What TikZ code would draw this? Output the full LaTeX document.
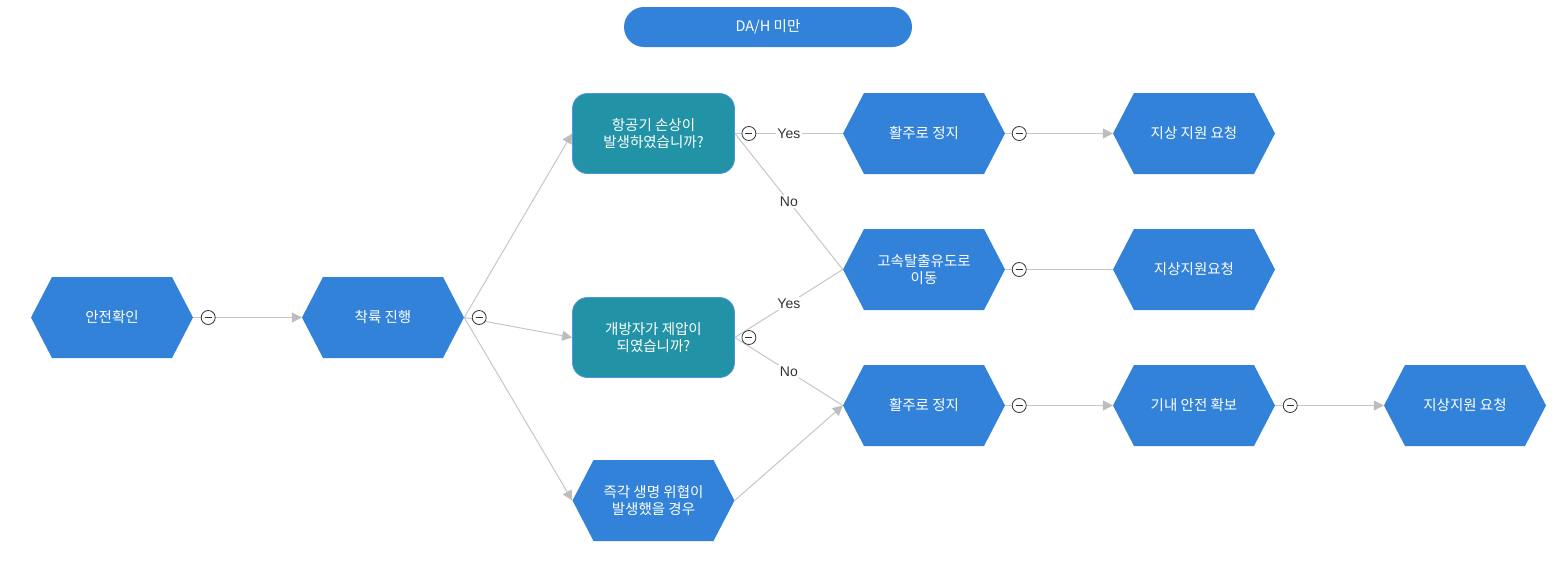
\documentclass[tikz,border=0pt]{standalone}
\usepackage{fontspec}
\setmainfont{Noto Sans CJK KR}
\newfontfamily\latinfont{Liberation Sans}
\usetikzlibrary{arrows.meta}
\definecolor{hexblue}{HTML}{3382D9}
\definecolor{qteal}{HTML}{2293A6}
\definecolor{lgray}{HTML}{C6C6C6}
\definecolor{agray}{HTML}{BDBDBD}
\definecolor{lbl}{HTML}{333333}
\tikzset{
  boxfont/.style={text=white, font=\fontsize{14.5}{17.5}\selectfont, align=center},
  hexbox/.style={boxfont, minimum width=162pt, minimum height=81pt, inner sep=0pt,
    path picture={\fill[hexblue] (path picture bounding box.west)
      -- ([xshift=21pt]path picture bounding box.north west)
      -- ([xshift=-21pt]path picture bounding box.north east)
      -- (path picture bounding box.east)
      -- ([xshift=-21pt]path picture bounding box.south east)
      -- ([xshift=21pt]path picture bounding box.south west) -- cycle;}},
  qbox/.style={boxfont, rectangle, rounded corners=15pt, fill=qteal, draw=hexblue!85, line width=0.8pt,
    minimum width=162pt, minimum height=80pt, inner sep=0pt},
  pill/.style={boxfont, rectangle, rounded corners=20pt, fill=hexblue, minimum width=288pt, minimum height=40pt, inner sep=0pt},
  conn/.style={draw=lgray, line width=1pt},
  arr/.style={conn, -{Triangle[length=10pt,width=10pt,color=agray]}},
  lab/.style={fill=white, text=lbl, font=\latinfont\fontsize{14}{16}\selectfont, inner sep=1.5pt},
  collapse/.style={circle, draw=lbl, fill=white, minimum size=14pt, inner sep=0pt, line width=0.8pt,
    path picture={\draw[lbl, line width=1pt] ([xshift=-3.5pt]path picture bounding box.center) -- ([xshift=3.5pt]path picture bounding box.center);}}
}
\begin{document}
\begin{tikzpicture}[x=1pt,y=-1pt]
\useasboundingbox (0,0) rectangle (1563,573);
\node[pill] (top) at (768,27) {DA/H 미만};
\node[hexbox] (n1) at (112,317.5) {안전확인};
\node[hexbox] (n2) at (383,317.5) {착륙 진행};
\node[qbox] (d1) at (653.5,133.5) {항공기 손상이\\ 발생하였습니까?};
\node[qbox] (d2) at (653.5,337.5) {개방자가 제압이\\ 되였습니까?};
\node[hexbox] (n3) at (653.5,500.5) {즉각 생명 위협이\\ 발생했을 경우};
\node[hexbox] (h1) at (924,133.5) {활주로 정지};
\node[hexbox] (h2) at (924,269.5) {고속탈출유도로\\ 이동};
\node[hexbox] (h3) at (924,405.5) {활주로 정지};
\node[hexbox] (g1) at (1194,133.5) {지상 지원 요청};
\node[hexbox] (g2) at (1194,269.5) {지상지원요청};
\node[hexbox] (g3) at (1194,405.5) {기내 안전 확보};
\node[hexbox] (g4) at (1465,405.5) {지상지원 요청};

\draw[arr] (n1.east) -- (n2.west);
\draw[arr] (n2.east) -- (d1.west);
\draw[arr] (n2.east) -- (d2.west);
\draw[arr] (n2.east) -- (n3.west);
\draw[conn] (d1.east) -- node[lab] {Yes} (h1.west);
\draw[conn] (d1.east) -- node[lab] {No} (h2.west);
\draw[conn] (d2.east) -- node[lab] {Yes} (h2.west);
\draw[conn] (d2.east) -- node[lab] {No} (h3.west);
\draw[arr] (n3.east) -- (h3.west);
\draw[arr] (h1.east) -- (g1.west);
\draw[conn] (h2.east) -- (g2.west);
\draw[arr] (h3.east) -- (g3.west);
\draw[arr] (g3.east) -- (g4.west);

\node[collapse] (k1) at ([xshift=15pt]n1.east) {};
\node[collapse] (k2) at ([xshift=15pt]n2.east) {};
\node[collapse] (k3) at ([xshift=14pt]d1.east) {};
\node[collapse] (k4) at ([xshift=14pt]d2.east) {};
\node[collapse] (k5) at ([xshift=14pt]h1.east) {};
\node[collapse] (k6) at ([xshift=14pt]h2.east) {};
\node[collapse] (k7) at ([xshift=14pt]h3.east) {};
\node[collapse] (k8) at ([xshift=15pt]g3.east) {};
\end{tikzpicture}
\end{document}
